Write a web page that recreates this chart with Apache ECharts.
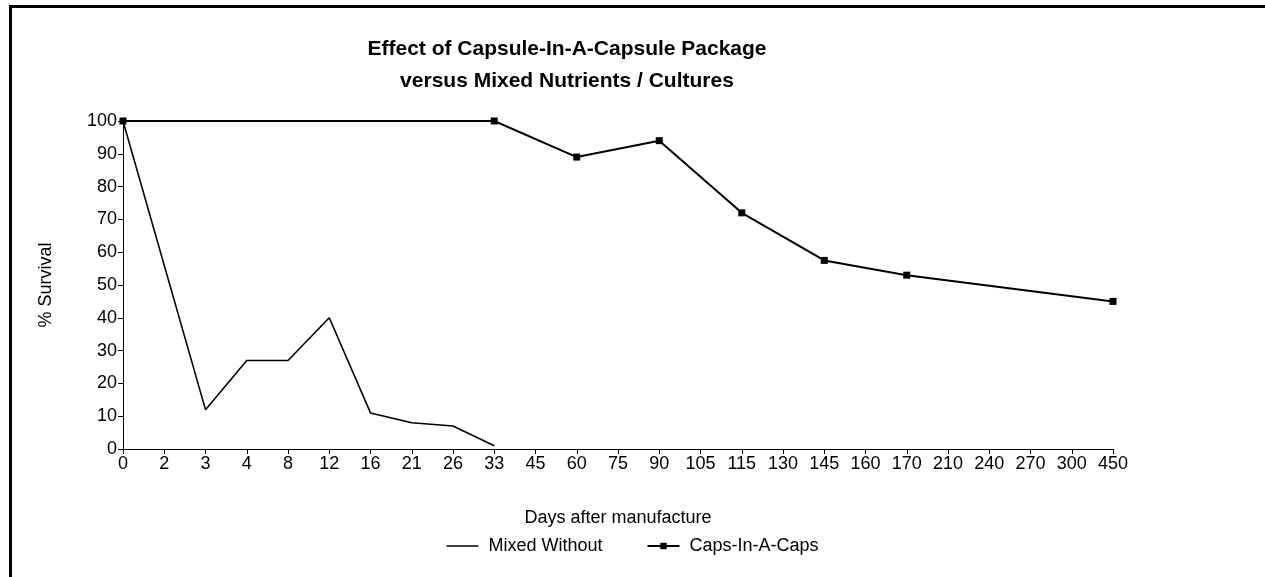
<!DOCTYPE html>
<html><head><meta charset="utf-8">
<script src="https://cdn.jsdelivr.net/npm/echarts@6/dist/echarts.min.js"></script>
<style>html,body{margin:0;padding:0;background:#fff}#c{width:1265px;height:577px}</style>
</head><body><div id="c"></div>
<script>
const days = ['0','2','3','4','8','12','16','21','26','33','45','60','75','90','105','115','130','145','160','170','210','240','270','300','450'];
const mixedWithout = [100,null,12,27,27,40,11,8,7,1,null,null,null,null,null,null,null,null,null,null,null,null,null,null,null];
const capsInACaps = [100,null,null,null,null,null,null,null,null,100,null,89,null,94,null,72,null,57.5,null,53,null,null,null,null,45];
const yTicks = [0,10,20,30,40,50,60,70,80,90,100];

const FONT = '"Liberation Sans", Arial, sans-serif';
const chart = echarts.init(document.getElementById('c'));
chart.setOption({
  backgroundColor: '#fff',
  animation: false,
  graphic: [{type:'rect', left: 8, top: 4, shape:{width:1400, height:700}, style:{fill:'none', stroke:'#000', lineWidth:3}, silent:true}],
  title: {
    text: 'Effect of Capsule-In-A-Capsule Package\nversus Mixed Nutrients / Cultures',
    left: 562, top: 28, textAlign: 'center',
    textStyle: {fontFamily: FONT, fontSize: 21, fontWeight: 'bold', color: '#000', lineHeight: 32}
  },
  grid: {left: 123, right: 152, top: 121, bottom: 128, containLabel: false},
  legend: {
    bottom: 17, left: 'center',
    itemWidth: 32, itemHeight: 8, itemGap: 44,
    textStyle: {fontFamily: FONT, fontSize: 18, color: '#000', padding: [0, 0, 0, 5]},
    data: [
      {name: 'Mixed Without', icon: 'path://M0,0 L64,0 L64,3 L0,3 Z', itemStyle: {color: '#000'}},
      'Caps-In-A-Caps'
    ]
  },
  xAxis: {
    type: 'category', data: days, boundaryGap: false,
    name: 'Days after manufacture', nameLocation: 'middle', nameGap: 60,
    nameTextStyle: {fontFamily: FONT, fontSize: 18, color: '#000'},
    axisLine: {lineStyle: {color: '#000', width: 1}},
    axisTick: {show: true, inside: false, length: 5, lineStyle: {color: '#000'}, alignWithLabel: true},
    axisLabel: {fontFamily: FONT, fontSize: 18, color: '#000', interval: 0, margin: 6},
    splitLine: {show: false}
  },
  yAxis: {
    type: 'value', min: 0, max: 100, interval: 10,
    name: '% Survival', nameLocation: 'middle', nameGap: 68, nameRotate: 90,
    nameTextStyle: {fontFamily: FONT, fontSize: 18, color: '#000'},
    axisLine: {show: true, lineStyle: {color: '#000', width: 1}},
    axisTick: {show: true, inside: false, length: 5, lineStyle: {color: '#000'}},
    axisLabel: {fontFamily: FONT, fontSize: 18, color: '#000', margin: 6,
      formatter: v => yTicks.includes(v) ? String(v) : ''},
    splitLine: {show: false}
  },
  series: [
    {name: 'Mixed Without', type: 'line', data: mixedWithout, connectNulls: true,
     showSymbol: false, symbol: 'none', lineStyle: {color: '#000', width: 1.6}, itemStyle: {color: '#000'}},
    {name: 'Caps-In-A-Caps', type: 'line', data: capsInACaps, connectNulls: true,
     symbol: 'rect', symbolSize: 7, showAllSymbol: true,
     lineStyle: {color: '#000', width: 2}, itemStyle: {color: '#000'}}
  ]
});
</script></body></html>
